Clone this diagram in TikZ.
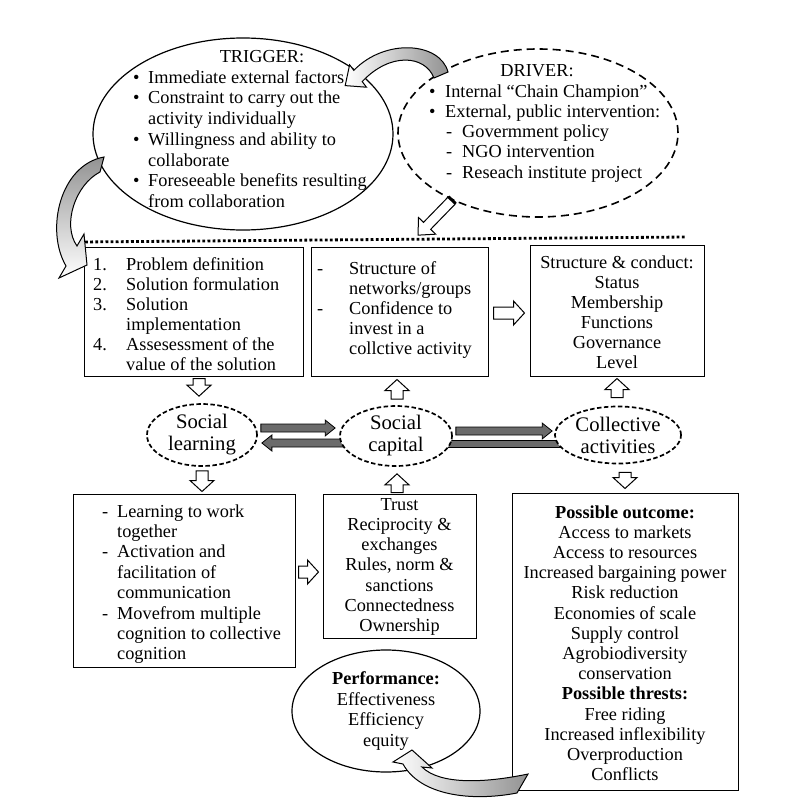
\documentclass[tikz,border=0pt]{standalone}
\usepackage{fontspec}
\setmainfont{Liberation Serif}
\usetikzlibrary{shapes.geometric,fit,calc,backgrounds}
\newcommand{\txtsize}{\fontsize{18.3}{20.4}\selectfont}
\newcommand{\bigsize}{\fontsize{20.7}{22}\selectfont}
\tikzset{
  blockshaft/.store in=\blockshaft, blockhead/.store in=\blockhead,
  blocklen/.store in=\blocklen,
  blockshaft=6pt, blockhead=12pt, blocklen=11pt,
  block/.style={to path={
    ($(\tikztostart)!\blockshaft!90:(\tikztotarget)$) --
    ($(\tikztotarget)!\blocklen!(\tikztostart)!\blockshaft!-90:(\tikztostart)$) --
    ($(\tikztotarget)!\blocklen!(\tikztostart)!\blockhead!-90:(\tikztostart)$) --
    (\tikztotarget) --
    ($(\tikztotarget)!\blocklen!(\tikztostart)!\blockhead!90:(\tikztostart)$) --
    ($(\tikztotarget)!\blocklen!(\tikztostart)!\blockshaft!90:(\tikztostart)$) --
    ($(\tikztostart)!\blockshaft!-90:(\tikztotarget)$) -- cycle}},
  hollow/.style={block, draw, fill=white, line width=1pt},
  grayarrow/.style={block, draw, fill=black!58, line width=.8pt,
    blockshaft=4pt, blockhead=8pt, blocklen=10pt},
  box/.style={draw, line width=1pt, inner sep=0pt},
  txt/.style={inner sep=0pt, font=\txtsize},
  concept/.style={ellipse, draw, fill=white, line width=1.7pt,
    dash pattern=on 4.5pt off 2.5pt, inner sep=0pt, align=center, font=\bigsize},
  ribbon/.style={draw, line width=1pt}
}
\begin{document}
\begin{tikzpicture}[x=1pt, y=-1pt]
  \useasboundingbox (0,0) rectangle (794,800);

  \node[ellipse, draw, line width=1.2pt, minimum width=300pt, minimum height=192pt,
        inner sep=0pt] (trigger) at (243,134) {};
  \node[ellipse, draw, line width=1.6pt, dash pattern=on 8pt off 5pt,
        minimum width=280pt, minimum height=168pt, inner sep=0pt] (driver) at (538,133) {};

  \node[txt, anchor=base] (trigtitle) at (262,63) {TRIGGER:};
  \node[txt, anchor=base west, font=\fontsize{18.3}{20.8}\selectfont] (triglist) at (133,83) {%
    \begin{tabular}[t]{@{}p{15pt}@{}l@{}}
      \textbullet & Immediate external factors\\
      \textbullet & Constraint to carry out the\\
                  & activity individually\\
      \textbullet & Willingness and ability to\\
                  & collaborate\\
      \textbullet & Foreseeable benefits resulting\\
                  & from collaboration
    \end{tabular}};

  \node[txt, anchor=base] (drvtitle) at (537,76) {DRIVER:};
  \node[txt, anchor=base west, font=\fontsize{18.3}{20.3}\selectfont] (drvlist) at (429,97) {%
    \begin{tabular}[t]{@{}p{16pt}@{}p{17pt}@{}l@{}}
      \textbullet & \multicolumn{2}{@{}l@{}}{Internal “Chain Champion”}\\
      \textbullet & \multicolumn{2}{@{}l@{}}{External, public intervention:}\\
                  & \hspace{1pt}- & Govermment policy\\
                  & \hspace{1pt}- & NGO intervention\\
                  & \hspace{1pt}- & Reseach institute project
    \end{tabular}};

  \coordinate (drvtail) at (driver.-142);
  \coordinate (drvtip) at ($(drvtail)+(-34,35)$);
  \draw[hollow, blockshaft=5pt, blockhead=12pt, blocklen=13pt] (drvtail) to (drvtip);
  \draw[line width=3pt] ($(drvtail)!5pt!90:(drvtip)$) -- ($(drvtail)!5pt!-90:(drvtip)$);

  \draw[line width=2.8pt, dash pattern=on 2.8pt off 2.3pt] (80,242) -- (686,237);

  \node[box, fit={(84,247) (303,376)}] (steps) {};
  \node[box, fit={(311,247) (488,376)}] (structure) {};
  \node[box, fit={(530,245) (704,376)}] (conduct) {};
  \node[box, fit={(73,494) (295,667)}] (learning) {};
  \node[box, fit={(323,494) (476,638)}] (capital) {};
  \node[box, fit={(512,493) (738,790)}] (outcome) {};

  \node[txt, anchor=base west, font=\fontsize{18.3}{20}\selectfont] (stepstxt) at (93,270) {%
    \begin{tabular}[t]{@{}p{33pt}@{}l@{}}
      1. & Problem definition\\
      2. & Solution formulation\\
      3. & Solution\\
         & implementation\\
      4. & Assesessment of the\\
         & value of the solution
    \end{tabular}};
  \node[txt, anchor=base west, font=\fontsize{18.3}{20.2}\selectfont] (structtxt) at (317,274) {%
    \begin{tabular}[t]{@{}p{32pt}@{}l@{}}
      - & Structure of\\
        & networks/groups\\
      - & Confidence to\\
        & invest in a\\
        & collctive activity
    \end{tabular}};
  \node[txt, anchor=base, font=\fontsize{18.3}{20}\selectfont] (conducttxt) at (617,268) {%
    \begin{tabular}[t]{@{}c@{}}
      Structure \& conduct:\\ Status\\ Membership\\ Functions\\ Governance\\ Level
    \end{tabular}};
  \node[txt, anchor=base west] (learntxt) at (102,517) {%
    \begin{tabular}[t]{@{}p{15pt}@{}l@{}}
      - & Learning to work\\
        & together\\
      - & Activation and\\
        & facilitation of\\
        & communication\\
      - & Movefrom multiple\\
        & cognition to collective\\
        & cognition
    \end{tabular}};
  \node[txt, anchor=base, font=\fontsize{18.3}{20.3}\selectfont] (capitaltxt) at (399.5,510) {%
    \begin{tabular}[t]{@{}c@{}}
      Trust\\ Reciprocity \&\\ exchanges\\ Rules, norm \&\\ sanctions\\
      Connectedness\\ Ownership
    \end{tabular}};
  \node[txt, anchor=base, font=\fontsize{18.3}{20.2}\selectfont] (outcometxt) at (625,518) {%
    \begin{tabular}[t]{@{}c@{}}
      \textbf{Possible outcome:}\\ Access to markets\\ Access to resources\\
      Increased bargaining power\\ Risk reduction\\ Economies of scale\\
      Supply control\\ Agrobiodiversity\\ conservation\\
      \textbf{Possible thrests:}\\ Free riding\\ Increased inflexibility\\
      Overproduction\\ Conflicts
    \end{tabular}};

  \node[ellipse, draw, line width=1.2pt, minimum width=188pt, minimum height=122pt,
        inner sep=0pt, align=center, font=\txtsize] (perf) at (386,711)
        {\textbf{Performance:}\\ Effectiveness\\ Efficiency\\ equity};

  \node[concept, minimum width=110pt, minimum height=62pt] (slearn) at (202,435) {Social\\learning};
  \node[concept, minimum width=112pt, minimum height=60pt] (scap) at (396,436) {Social\\capital};
  \node[concept, minimum width=126pt, minimum height=57pt] (coll) at (618,435) {Collective\\activities};

  \begin{pgfonlayer}{background}
    \draw[grayarrow] ($(slearn.east)+(3,-7)$) to ($(scap.west)+(-4,-8)$);
    \draw[grayarrow] ($(scap.west)+(10,7)$) to ($(slearn.east)+(4,8)$);
    \draw[grayarrow] ($(scap.east)+(3,-5)$) to ($(coll.west)+(-2,-4)$);
    \draw[fill=black!58, line width=.8pt] ($(scap.east)+(-10,4)$) rectangle ($(coll.west)+(10,12)$);
  \end{pgfonlayer}

  \draw[hollow] ($(steps.south)+(5.5,2)$) to ($(slearn.north)+(-3,-7)$);
  \draw[hollow] ($(scap.north)+(1,-6)$) to ($(structure.south)+(-2.5,3)$);
  \draw[hollow] ($(coll.north)+(-1,-8)$) to ($(conduct.south)+(0,2)$);
  \draw[hollow] ($(structure.east)+(5,1.5)$) to ($(conduct.west)+(-5,2.5)$);
  \draw[hollow] ($(slearn.south)+(0,4)$) to ($(slearn.south |- learning.north)+(0,-2)$);
  \draw[hollow] ($(capital.north)+(-2.5,-1)$) to ($(scap.south)+(1,7)$);
  \draw[hollow] ($(coll.south)+(7,8)$) to ($(coll.south |- outcome.north)+(7,-4)$);
  \draw[hollow] ($(learning.east)+(3,-8.5)$) to ($(capital.west)+(-4,6)$);

  \path[ribbon, left color=white, right color=gray!85]
    (448,72) .. controls (440,42) and (385,38) .. (353.8,70.4) -- (349.6,64.8) --
    (345.2,85.6) -- (366.4,87.2) -- (362.2,81.6) .. controls (390,52) and (425,55) ..
    (434,78) -- cycle;
  \path[ribbon, top color=gray!85, bottom color=white]
    (104,157) .. controls (60,165) and (45,230) .. (66,266) -- (59,278) --
    (87,265) -- (84,234) -- (77,246) .. controls (62,225) and (75,185) ..
    (100,172) -- cycle;
  \path[ribbon, left color=white, right color=gray!85]
    (412,750) -- (432,768) -- (422,767) .. controls (440,785) and (485,783) ..
    (528,774) -- (517,793) .. controls (470,802) and (420,795) .. (403,764) --
    (393,762) -- cycle;
\end{tikzpicture}
\end{document}
